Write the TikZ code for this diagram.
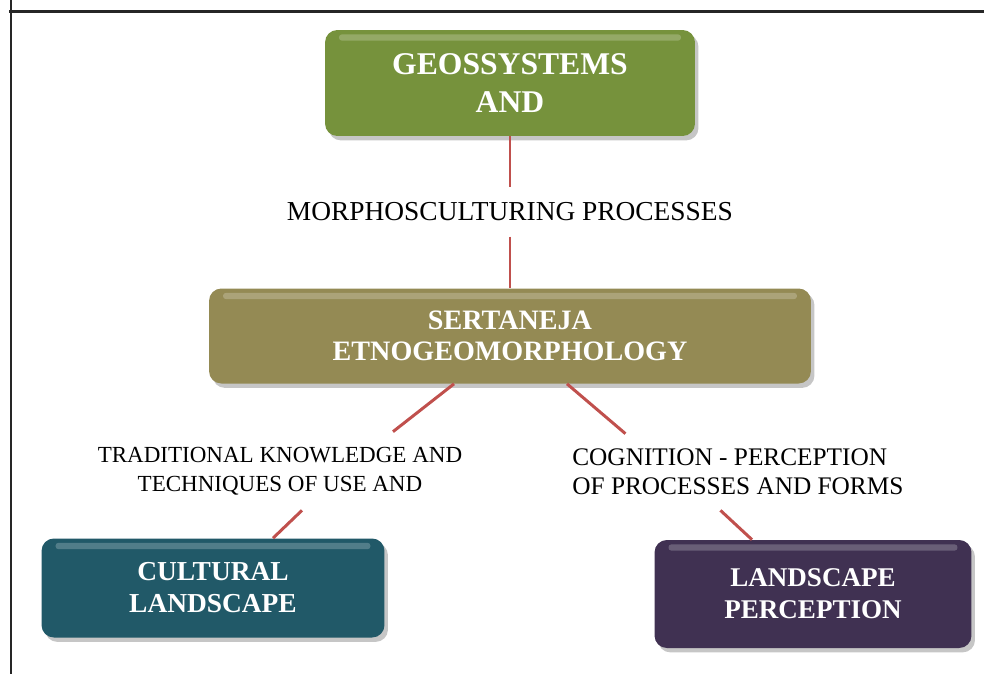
\documentclass[tikz,border=0pt]{standalone}
\usepackage{fontspec}
\setmainfont{Liberation Serif}
\usetikzlibrary{shadows}
\definecolor{geogreen}{HTML}{76923C}
\definecolor{sertolive}{HTML}{948A54}
\definecolor{cultteal}{HTML}{215968}
\definecolor{percpurple}{HTML}{403152}
\definecolor{linkred}{HTML}{C0504D}

\begin{document}
\begin{tikzpicture}[x=0.02cm,y=-0.02cm,
  box/.style={rectangle, rounded corners=7pt, text=white, align=center,
    drop shadow={shadow xshift=2pt, shadow yshift=-2.5pt, opacity=0.45},
    path picture={\fill[white,opacity=0.22,rounded corners=1.5pt]
      ([xshift=8pt,yshift=-2.5pt]path picture bounding box.north west) rectangle
      ([xshift=-8pt,yshift=-6pt]path picture bounding box.north east);}},
  lbl/.style={inner sep=0.3cm, text=black},
  link/.style={draw=linkred, line width=1.7pt}]
  \path[use as bounding box] (0,0) rectangle (984,674);
  \draw[line width=1.7pt, black!85] (11,0) -- (11,674);
  \draw[line width=1.7pt, black!85] (9,11) -- (984,11);

  \node[box, fill=geogreen, minimum width=7.4cm, minimum height=2.12cm,
    font=\bfseries\fontsize{18}{21.6}\selectfont] (geo) at (510,83)
    {GEOSSYSTEMS\\AND};
  \node[lbl, font=\fontsize{15.6}{18}\selectfont] (morph) at (510,212)
    {MORPHOSCULTURING PROCESSES};
  \node[box, fill=sertolive, minimum width=12.04cm, minimum height=1.9cm,
    font=\bfseries\fontsize{16}{17.6}\selectfont] (sert) at (510,336)
    {SERTANEJA\\ETNOGEOMORPHOLOGY};
  \node[lbl, align=center, font=\fontsize{13.1}{16.5}\selectfont] (trad) at (280,471)
    {TRADITIONAL KNOWLEDGE AND\\TECHNIQUES OF USE AND};
  \node[lbl, align=left, anchor=west, font=\fontsize{14.4}{16.5}\selectfont] (cog) at (557,472)
    {COGNITION - PERCEPTION\\OF PROCESSES AND FORMS};
  \node[box, fill=cultteal, minimum width=6.86cm, minimum height=1.98cm,
    font=\bfseries\fontsize{15.6}{18.2}\selectfont] (cult) at (213,588)
    {CULTURAL\\LANDSCAPE};
  \node[box, fill=percpurple, minimum width=6.34cm, minimum height=2.16cm,
    font=\bfseries\fontsize{15.4}{18.2}\selectfont] (perc) at (813,594)
    {LANDSCAPE\\PERCEPTION};

  \draw[link] (geo) -- (morph);
  \draw[link] (morph) -- (sert);
  \draw[link] ([xshift=-1.12cm]sert.south) -- ([xshift=2.26cm]trad.north);
  \draw[link] ([xshift=1.14cm]sert.south) -- ([xshift=-2.25cm]cog.north);
  \draw[link] ([xshift=0.44cm]trad.south) -- ([xshift=1.2cm]cult.north);
  \draw[link] ([xshift=-0.35cm]cog.south) -- ([xshift=-1.22cm]perc.north);
\end{tikzpicture}
\end{document}
